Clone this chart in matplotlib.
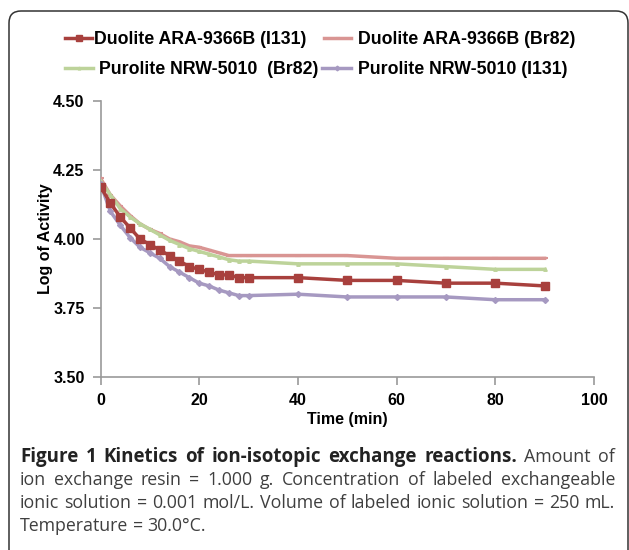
import matplotlib
matplotlib.use("Agg")
import matplotlib.pyplot as plt
from matplotlib.patches import FancyBboxPatch
from matplotlib.transforms import IdentityTransform
from matplotlib.lines import Line2D

# ---- data ----
time_min = [0, 2, 4, 6, 8, 10, 12, 14, 16, 18, 20, 22, 24, 26, 28, 30, 40, 50, 60, 70, 80, 90]
duolite_i131 = [4.19, 4.13, 4.08, 4.04, 4.00, 3.98, 3.96, 3.94, 3.92, 3.90, 3.89, 3.88, 3.87, 3.87,
                3.86, 3.86, 3.86, 3.85, 3.85, 3.84, 3.84, 3.83]
duolite_br82 = [4.22, 4.16, 4.12, 4.085, 4.055, 4.035, 4.02, 4.00, 3.99, 3.975, 3.97, 3.96, 3.95, 3.94,
                3.94, 3.94, 3.94, 3.94, 3.93, 3.93, 3.93, 3.93]
purolite_br82 = [4.21, 4.16, 4.11, 4.08, 4.055, 4.035, 4.015, 3.995, 3.98, 3.965, 3.955, 3.945, 3.935,
                 3.925, 3.92, 3.92, 3.91, 3.91, 3.91, 3.90, 3.89, 3.89]
purolite_i131 = [4.20, 4.10, 4.05, 4.005, 3.97, 3.95, 3.93, 3.90, 3.88, 3.86, 3.84, 3.83, 3.815, 3.805,
                 3.795, 3.795, 3.80, 3.79, 3.79, 3.79, 3.78, 3.78]

series_labels = ["Duolite ARA-9366B (I131)", "Duolite ARA-9366B (Br82)",
                 "Purolite NRW-5010  (Br82)", "Purolite NRW-5010 (I131)"]
x_ticks = [0, 20, 40, 60, 80, 100]
y_ticks = [3.50, 3.75, 4.00, 4.25, 4.50]
x_label = "Time (min)"
y_label = "Log of Activity"
caption_bold = "Figure 1 Kinetics of ion-isotopic exchange reactions."
caption_lines = ["Amount of",
                 "ion exchange resin = 1.000 g. Concentration of labeled exchangeable",
                 "ionic solution = 0.001 mol/L. Volume of labeled ionic solution = 250 mL.",
                 "Temperature = 30.0\u00b0C."]

W, H = 629, 550
fig = plt.figure(figsize=(W / 100, H / 100), dpi=100)
fig.patch.set_facecolor("white")

def fx(px):
    return px / W

def fy(py):
    return 1 - py / H

ax = fig.add_axes([fx(100.5), fy(377), fx(594) - fx(100.5), fy(101) - fy(377)])

c_red = "#A8403D"
c_pink = "#D99593"
c_green = "#BDD39A"
c_purple = "#A699C1"
lw = 2.5
styles = [
    dict(color=c_red, lw=lw, marker="s", ms=5.5, zorder=5),
    dict(color=c_pink, lw=lw, marker="_", ms=4, mew=1.5, zorder=3),
    dict(color=c_green, lw=lw, marker="^", ms=2.5, zorder=4),
    dict(color=c_purple, lw=lw, marker="D", ms=3, zorder=4),
]
series = [duolite_i131, duolite_br82, purolite_br82, purolite_i131]
for vals, st in zip(series, styles):
    ax.plot(time_min, vals, **st)

ax.set_xlim(0, 100)
ax.set_ylim(3.5, 4.5)
ax.set_xticks(x_ticks)
ax.set_yticks(y_ticks)
ax.set_yticklabels([f"{v:.2f}" for v in y_ticks])
for s in ["top", "right"]:
    ax.spines[s].set_visible(False)
for s in ["left", "bottom"]:
    ax.spines[s].set_color("#9a9a9a")
    ax.spines[s].set_linewidth(1.2)
ax.tick_params(direction="out", length=5.5, width=1.2, color="#9a9a9a",
               labelsize=11.5, pad=6)
for t in ax.get_xticklabels() + ax.get_yticklabels():
    t.set_fontfamily("Liberation Sans")
    t.set_fontweight("bold")
ax.set_xlabel(x_label, fontsize=11.5, fontweight="bold", family="Liberation Sans", labelpad=3)
ax.set_ylabel(y_label, fontsize=11.5, fontweight="bold", family="Liberation Sans", labelpad=0)

# ---- legend (manual placement, pixel coordinates from top-left) ----
leg_pos = [  # (handle x0, handle x1, text x, y)
    (65, 92, 94, 38),
    (324, 351, 358, 38),
    (65, 93, 99, 68),
    (322, 351, 358, 68),
]
for (hx0, hx1, tx, yy), st, lab in zip(leg_pos, styles, series_labels):
    ln = Line2D([hx0, hx1], [H - yy, H - yy], transform=IdentityTransform(),
                color=st["color"], lw=st["lw"])
    fig.add_artist(ln)
    mk = Line2D([(hx0 + hx1) / 2], [H - yy], transform=IdentityTransform(),
                color=st["color"], marker=st["marker"], ms=st["ms"] * 0.8,
                mew=st.get("mew", 1.0), lw=0)
    fig.add_artist(mk)
    fig.text(fx(tx), fy(yy), lab, fontsize=12.8, fontweight="bold", family="Liberation Sans",
             va="center_baseline", ha="left", color="black")

# border
box = FancyBboxPatch((9, -30), 619, 550 - 11 + 30, boxstyle="round,pad=0,rounding_size=12",
                     transform=IdentityTransform(), fill=False, edgecolor="#333333", lw=1.1)
fig.add_artist(box)

# ---- caption, justified between x=20 and x=615 ----
cap_font = "Open Sans"
cap_size = 12.8
bold_size = 13.5
x_left, x_right = 20, 615
fig.canvas.draw()
r = fig.canvas.get_renderer()

def place_line(words, y_base, justify=True):
    # words: list of (text, weight, color, size)
    objs = []
    for w, wt, col, sz in words:
        t = fig.text(0, fy(y_base), w, fontsize=sz, family=cap_font, fontweight=wt,
                     color=col, va="baseline", ha="left")
        objs.append(t)
    widths = [t.get_window_extent(renderer=r).width for t in objs]
    gap = 0.26 * cap_size * 100 / 72
    if justify and len(objs) > 1:
        gap = (x_right - x_left - sum(widths)) / (len(objs) - 1)
    x = x_left
    for t, wd in zip(objs, widths):
        t.set_x(fx(x))
        x += wd + gap

bold_c, reg_c = "#222222", "#3f3f3f"
line1 = [(w, "bold", bold_c, bold_size) for w in caption_bold.split()] + \
        [(w, "normal", reg_c, cap_size) for w in caption_lines[0].split()]
base_off = 5
place_line(line1, 457 + base_off)
place_line([(w, "normal", reg_c, cap_size) for w in caption_lines[1].split()], 480 + base_off)
place_line([(w, "normal", reg_c, cap_size) for w in caption_lines[2].split()], 503 + base_off)
place_line([(w, "normal", reg_c, cap_size) for w in caption_lines[3].split()], 526 + base_off,
           justify=False)

fig.savefig("out.png", dpi=100)
